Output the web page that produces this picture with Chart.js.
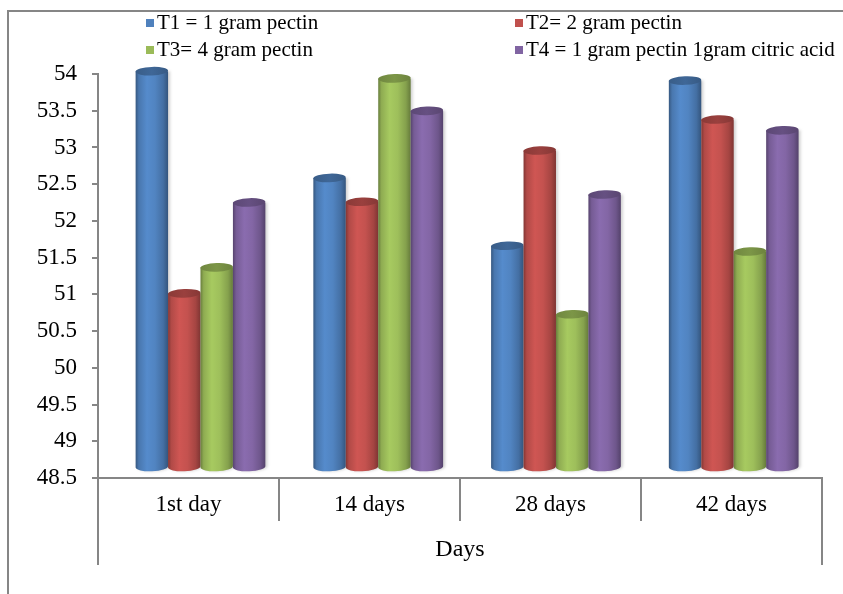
<!DOCTYPE html>
<html>
<head>
<meta charset="utf-8">
<script src="https://cdn.jsdelivr.net/npm/chart.js@4.4.0/dist/chart.umd.min.js"></script>
<style>
  html, body { margin: 0; padding: 0; background: #ffffff; overflow: hidden; }
  #wrap { position: relative; width: 843px; height: 594px; }
</style>
</head>
<body>
<div id="wrap"><canvas id="chart" width="843" height="594"></canvas></div>
<script>
// Category labels (storage time) and axis ticks
const categories = ['1st day', '14 days', '28 days', '42 days'];
const yTickValues = [48.5, 49, 49.5, 50, 50.5, 51, 51.5, 52, 52.5, 53, 53.5, 54];

// Treatment names
const seriesNames = [
  'T1 = 1 gram pectin',
  'T2= 2 gram pectin',
  'T3= 4 gram pectin',
  'T4 = 1 gram pectin 1gram citric acid'
];

// Measured values per treatment, one per day
const t1Values = [54.00, 52.52, 51.58, 53.87];
const t2Values = [50.92, 52.19, 52.90, 53.33];
const t3Values = [51.28, 53.90, 50.63, 51.50];
const t4Values = [52.18, 53.45, 52.29, 53.18];

// Office-style palette for the cylinders
const palette = [
  [79, 129, 189],
  [192, 80, 77],
  [155, 187, 89],
  [128, 100, 162]
];

const GRAY = '#868686';
const SERIF = "'Liberation Serif', 'Times New Roman', serif";

function rgb(c, f) {
  const k = (v) => Math.max(0, Math.min(255, Math.round(v * f)));
  return 'rgb(' + k(c[0]) + ',' + k(c[1]) + ',' + k(c[2]) + ')';
}

// Slight perspective: bars stand a little behind the axis plane
const persp = { s: 0.982, vx: 855, vy: -83 };
function px(x) { return persp.vx + persp.s * (x - persp.vx); }
function py(y) { return persp.vy + persp.s * (y - persp.vy); }

function drawCylinder(ctx, left, right, top, bottom, col) {
  const cx = (left + right) / 2;
  const rx = (right - left) / 2;
  const ry = 4.3;
  const tilt = -0.04;

  // body
  const g = ctx.createLinearGradient(left, 0, right, 0);
  g.addColorStop(0.0, rgb(col, 0.68));
  g.addColorStop(0.10, rgb(col, 0.92));
  g.addColorStop(0.35, rgb(col, 1.08));
  g.addColorStop(0.60, rgb(col, 1.02));
  g.addColorStop(0.85, rgb(col, 0.86));
  g.addColorStop(1.0, rgb(col, 0.66));
  ctx.save();
  ctx.shadowColor = 'rgba(0,0,0,0.18)';
  ctx.shadowBlur = 3;
  ctx.shadowOffsetX = 2;
  ctx.beginPath();
  ctx.moveTo(left, top);
  ctx.lineTo(left, bottom);
  ctx.ellipse(cx, bottom, rx, ry, tilt, Math.PI, 0, true);
  ctx.lineTo(right, top);
  ctx.closePath();
  ctx.fillStyle = g;
  ctx.fill();
  ctx.restore();

  // top cap
  const tg = ctx.createLinearGradient(left, 0, right, 0);
  tg.addColorStop(0, rgb(col, 0.72));
  tg.addColorStop(0.5, rgb(col, 0.80));
  tg.addColorStop(1, rgb(col, 0.70));
  ctx.beginPath();
  ctx.ellipse(cx, top, rx, ry, tilt, 0, Math.PI * 2);
  ctx.fillStyle = tg;
  ctx.fill();
}

const cylinderPlugin = {
  id: 'cylinders',
  beforeDatasetDraw() { return false; },
  afterDatasetsDraw(chart) {
    const ctx = chart.ctx;
    const n = chart.data.labels.length;
    for (let i = 0; i < n; i++) {
      chart.data.datasets.forEach((ds, di) => {
        const bar = chart.getDatasetMeta(di).data[i];
        const p = bar.getProps(['x', 'y', 'base', 'width'], true);
        const l = px(p.x - p.width / 2), r = px(p.x + p.width / 2);
        drawCylinder(ctx, l, r, py(p.y), py(p.base), palette[di]);
      });
    }
  }
};

// Outer frame and the box lines around the category/title band
const framePlugin = {
  id: 'frame',
  beforeDraw(chart) {
    const ctx = chart.ctx;
    ctx.save();
    ctx.strokeStyle = GRAY;
    ctx.lineWidth = 2;
    ctx.beginPath();
    ctx.moveTo(8, chart.height + 2);
    ctx.lineTo(8, 11);
    ctx.lineTo(chart.width + 2, 11);
    ctx.stroke();
    ctx.restore();
  },
  afterDraw(chart) {
    const ctx = chart.ctx;
    const xs = chart.scales.x;
    ctx.save();
    ctx.strokeStyle = GRAY;
    ctx.lineWidth = 2;
    ctx.beginPath();
    ctx.moveTo(xs.left, xs.top);
    ctx.lineTo(xs.left, xs.bottom);
    ctx.moveTo(xs.right, xs.top);
    ctx.lineTo(xs.right, xs.bottom);
    ctx.stroke();
    ctx.restore();
  }
};

// Two-column legend above the plot
const legendPlugin = {
  id: 'gridLegend',
  afterDraw(chart) {
    const ctx = chart.ctx;
    const colX = [146, 515];
    const rowY = [23, 50];
    ctx.save();
    ctx.font = '21px ' + SERIF;
    ctx.textBaseline = 'middle';
    ctx.textAlign = 'left';
    chart.data.datasets.forEach((ds, i) => {
      const x = colX[i % 2], y = rowY[Math.floor(i / 2)];
      ctx.fillStyle = rgb(palette[i], 1);
      ctx.fillRect(x, y - 4, 8, 8);
      ctx.fillStyle = '#000';
      ctx.fillText(ds.label, x + 11, y);
    });
    ctx.restore();
  }
};

const seriesValues = [t1Values, t2Values, t3Values, t4Values];

new Chart(document.getElementById('chart'), {
  type: 'bar',
  data: {
    labels: categories,
    datasets: seriesNames.map((name, i) => ({
      label: name,
      data: seriesValues[i],
      base: yTickValues[0],
      backgroundColor: rgb(palette[i], 1),
      categoryPercentage: 0.73,
      barPercentage: 1.0
    }))
  },
  options: {
    responsive: false,
    animation: false,
    layout: { padding: { top: 74, left: 10, right: 21, bottom: 29 } },
    plugins: {
      legend: { display: false },
      tooltip: { enabled: false }
    },
    scales: {
      y: {
        min: 48.5,
        max: 54,
        afterFit(scale) { scale.width = 88; },
        afterBuildTicks(scale) { scale.ticks = yTickValues.map(v => ({ value: v })); },
        border: { display: true, color: GRAY, width: 2 },
        grid: { drawOnChartArea: false, drawTicks: true, tickLength: 6, color: GRAY, lineWidth: 2 },
        ticks: {
          padding: 15,
          color: '#000',
          font: { family: SERIF, size: 23 },
          callback: (v) => String(v)
        }
      },
      x: {
        afterFit(scale) { scale.height = 87; },
        border: { display: true, color: GRAY, width: 2 },
        grid: { offset: true, drawOnChartArea: false, drawTicks: true, tickLength: 43, color: GRAY, lineWidth: 2 },
        ticks: {
          padding: -30,
          color: '#000',
          font: { family: SERIF, size: 23 },
          maxRotation: 0
        },
        title: {
          display: true,
          text: 'Days',
          color: '#000',
          font: { family: SERIF, size: 24 },
          padding: { top: 0, bottom: 1 }
        }
      }
    }
  },
  plugins: [cylinderPlugin, framePlugin, legendPlugin]
});
</script>
</body>
</html>
